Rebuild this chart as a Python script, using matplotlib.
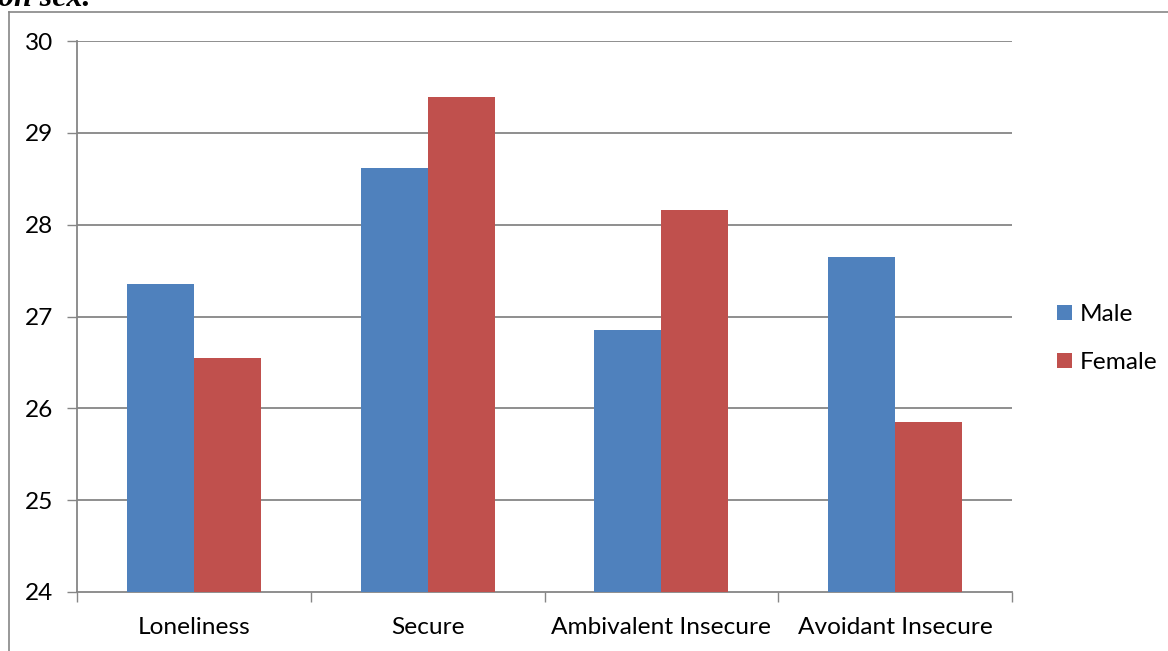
import matplotlib
matplotlib.use("Agg")
import matplotlib.pyplot as plt
from matplotlib.lines import Line2D
from matplotlib.patches import Patch
import numpy as np

categories = ["Loneliness", "Secure", "Ambivalent Insecure", "Avoidant Insecure"]
male = [27.35, 28.62, 26.85, 27.65]
female = [26.55, 29.39, 28.16, 25.85]
series_names = ["Male", "Female"]
y_ticks = [24, 25, 26, 27, 28, 29, 30]

W, H = 1168, 651
fig = plt.figure(figsize=(W / 100, H / 100), dpi=100)
fig.patch.set_facecolor("white")

font = ["Lato", "DejaVu Sans"]
fs = 17.6
grid_c = "#868686"

# plot area in pixel coordinates
x0, x1 = 77, 1012
ytop, ybot = 41, 592
ax = fig.add_axes([x0 / W, 1 - ybot / H, (x1 - x0) / W, (ybot - ytop) / H])

n = len(categories)
xs = np.arange(n)
bw = 0.287
ax.bar(xs - bw / 2, np.array(male) - 24, bw, bottom=24, color="#4f81bd", zorder=3,
       label=series_names[0])
ax.bar(xs + bw / 2, np.array(female) - 24, bw, bottom=24, color="#c0504d", zorder=3,
       label=series_names[1])

ax.set_xlim(-0.5, n - 0.5)
ax.set_ylim(24, 30)
ax.set_yticks(y_ticks)
ax.set_yticklabels([str(t) for t in y_ticks], fontfamily=font, fontsize=fs)
for t in y_ticks[1:]:
    ax.axhline(t, color=grid_c, lw=1.3, zorder=1)

ax.set_xticks(xs)
ax.set_xticklabels(categories, fontfamily=font, fontsize=fs)
ax.tick_params(axis="x", length=0, pad=18)
ax.set_xticks(np.arange(n + 1) - 0.5, minor=True)
ax.tick_params(axis="x", which="minor", length=7, width=1, color=grid_c, direction="out")
ax.tick_params(axis="y", length=7, width=1, color=grid_c, direction="out", pad=10)

for s in ["top", "right"]:
    ax.spines[s].set_visible(False)
for s in ["left", "bottom"]:
    ax.spines[s].set_color(grid_c)
    ax.spines[s].set_linewidth(1.3)
ax.set_facecolor("none")

# legend
handles = [Patch(facecolor="#4f81bd"), Patch(facecolor="#c0504d")]
leg = fig.legend(handles, series_names, loc="upper left",
                 bbox_to_anchor=(1035 / W, 1 - 282 / H), frameon=False,
                 prop={"family": font, "size": fs}, handlelength=0.6,
                 handleheight=0.6, handletextpad=0.35, labelspacing=1.1)

# outer chart frame
fig.add_artist(Line2D([9 / W, 9 / W], [0, 1 - 12 / H], color=grid_c, lw=1.2,
                      transform=fig.transFigure))
fig.add_artist(Line2D([9 / W, 1], [1 - 12 / H, 1 - 12 / H], color=grid_c, lw=1.2,
                      transform=fig.transFigure))

# caption text running off the top
fig.text(-2 / W, 1 - 6 / H, "on sex.", fontfamily="Liberation Serif",
         fontweight="bold", fontstyle="italic", fontsize=23, va="baseline", ha="left")

fig.savefig("out.png", dpi=100)
